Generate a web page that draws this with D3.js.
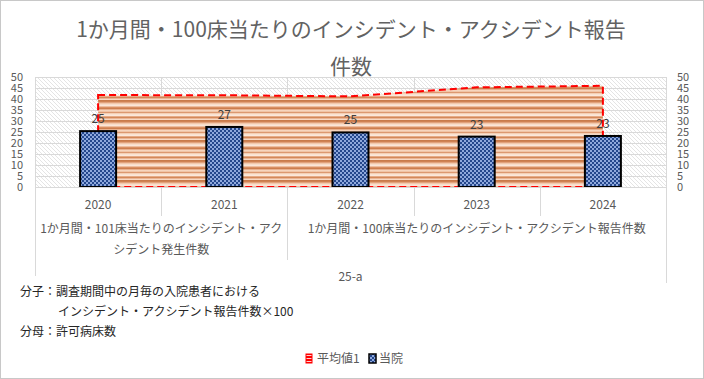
<!DOCTYPE html>
<html>
<head>
<meta charset="utf-8">
<script src="https://cdn.jsdelivr.net/npm/d3@7"></script>
<style>
  body { margin: 0; background: #fff; }
  svg { display: block; font-family: "Noto Sans CJK JP", "Noto Sans", sans-serif; }
</style>
</head>
<body>
<svg id="chart" width="704" height="379"></svg>
<script>
// data
const years = ['2020', '2021', '2022', '2023', '2024'];
const ownValues = [25.4, 27.3, 24.8, 22.9, 23.2];   // 当院
const avgValues = [41.8, 41.7, 41.2, 45.3, 46.0];   // 平均値1
const yTicks = [0, 5, 10, 15, 20, 25, 30, 35, 40, 45, 50];
const groups = [
  { label: ['1か月間・101床当たりのインシデント・アク', 'シデント発生件数'], from: '2020', to: '2021' },
  { label: ['1か月間・100床当たりのインシデント・アクシデント報告件数'], from: '2022', to: '2024' }
];
const titleLines = ['1か月間・100床当たりのインシデント・アクシデント報告', '件数'];
const outerLabel = '25-a';
const notes = [
  { text: '分子：調査期間中の月毎の入院患者における', indent: false },
  { text: 'インシデント・アクシデント報告件数×100', indent: true },
  { text: '分母：許可病床数', indent: false }
];
const legendItems = ['平均値1', '当院'];

const svg = d3.select('#chart');
const W = 704, H = 379;
const plot = { left: 35, right: 666, top: 77, bottom: 187 };

svg.append('rect')
  .attr('x', 0.5).attr('y', 0.5).attr('width', W - 1).attr('height', H - 1)
  .attr('fill', '#fff').attr('stroke', '#c8c8c8');

// patterns
const defs = svg.append('defs');

const hatch = defs.append('pattern')
  .attr('id', 'hatch').attr('patternUnits', 'userSpaceOnUse')
  .attr('width', 4).attr('height', 4);
hatch.append('rect').attr('width', 4).attr('height', 4).attr('fill', '#fff');
hatch.append('path').attr('d', 'M-1,-1 L5,5 M-1,3 L1,5 M3,-1 L5,1')
  .attr('stroke', '#e4e4e4').attr('stroke-width', 1);

const stripeColors = ['#c97a4a', '#cf8253', '#e2a27c', '#f2c9ad', '#f9ddca', '#fbe6d8',
  '#eebd9e', '#d98f63', '#cc7d4e', '#e8b08e', '#f6d4bd', '#f0c4a6', '#dc9870',
  '#f4cfb5', '#fae2d1', '#fbe8db', '#e6aa86', '#d38859', '#eab596', '#f7d9c4'];
const stripes = defs.append('pattern')
  .attr('id', 'stripes').attr('patternUnits', 'userSpaceOnUse')
  .attr('width', 8).attr('height', stripeColors.length);
stripes.selectAll('rect').data(stripeColors).join('rect')
  .attr('x', 0).attr('y', (d, i) => i).attr('width', 8).attr('height', 1)
  .attr('fill', d => d);

const checker = defs.append('pattern')
  .attr('id', 'checker').attr('patternUnits', 'userSpaceOnUse')
  .attr('width', 4).attr('height', 4);
checker.append('rect').attr('width', 4).attr('height', 4).attr('fill', '#24478c');
checker.append('rect').attr('width', 2).attr('height', 2).attr('fill', '#8ea8dc');
checker.append('rect').attr('x', 2).attr('y', 2).attr('width', 2).attr('height', 2).attr('fill', '#8ea8dc');

const redStripes = defs.append('pattern')
  .attr('id', 'redStripes').attr('patternUnits', 'userSpaceOnUse')
  .attr('width', 3).attr('height', 3);
redStripes.append('rect').attr('width', 3).attr('height', 3).attr('fill', '#ff0000');
redStripes.append('rect').attr('y', 1).attr('width', 3).attr('height', 1).attr('fill', '#ffd0d0');

// scales
const x = d3.scaleBand().domain(years).range([plot.left, plot.right]).padding(0);
const y = d3.scaleLinear().domain([0, 50]).range([plot.bottom, plot.top]);
const cx = d => x(d) + x.bandwidth() / 2;

// title
svg.append('g').selectAll('text').data(titleLines).join('text')
  .attr('x', 351).attr('y', (d, i) => 37 + i * 37)
  .attr('text-anchor', 'middle')
  .attr('font-size', 21).attr('fill', '#626262')
  .text(d => d);

// plot background
svg.append('rect')
  .attr('x', plot.left).attr('y', plot.top)
  .attr('width', plot.right - plot.left).attr('height', plot.bottom - plot.top)
  .attr('fill', 'url(#hatch)');

// gridlines
svg.append('g').selectAll('line').data(yTicks).join('line')
  .attr('x1', plot.left).attr('x2', plot.right)
  .attr('y1', d => Math.round(y(d)) + 0.5).attr('y2', d => Math.round(y(d)) + 0.5)
  .attr('stroke', '#d9d9d9');

// category boundaries (inside plot and in the axis)
const bounds = years.map(d => x(d)).concat([plot.right]);
svg.append('g').selectAll('line').data(bounds).join('line')
  .attr('x1', d => Math.round(d) + 0.5).attr('x2', d => Math.round(d) + 0.5)
  .attr('y1', plot.top)
  .attr('y2', (d, i) => {
    if (i === 0 || i === bounds.length - 1) return i === 0 ? 276 : 283;
    if (years[i] === groups[1].from) return 260;
    return 216;
  })
  .attr('stroke', '#d9d9d9');

// average area
const avgData = years.map((d, i) => ({ year: d, v: avgValues[i] }));
const area = d3.area()
  .x(d => cx(d.year))
  .y0(y(0))
  .y1(d => y(d.v));
svg.append('path')
  .datum(avgData)
  .attr('d', d => area(d) + 'Z')
  .attr('fill', 'url(#stripes)')
  .attr('stroke', '#ff0000')
  .attr('stroke-width', 2)
  .attr('stroke-dasharray', '7,4');

// bars
const barW = 36;
const ownData = years.map((d, i) => ({ year: d, v: ownValues[i] }));
svg.append('g').selectAll('rect').data(ownData).join('rect')
  .attr('x', d => cx(d.year) - barW / 2)
  .attr('y', d => y(d.v))
  .attr('width', barW)
  .attr('height', d => y(0) - y(d.v))
  .attr('fill', 'url(#checker)')
  .attr('stroke', '#000')
  .attr('stroke-width', 2);

// data labels
svg.append('g').selectAll('text').data(ownData).join('text')
  .attr('x', d => cx(d.year))
  .attr('y', d => y(d.v) - 8)
  .attr('text-anchor', 'middle')
  .attr('font-size', 12).attr('fill', '#404040')
  .text(d => d3.format('.0f')(d.v));

// value axes
const leftAxis = svg.append('g')
  .attr('transform', 'translate(23,0)')
  .call(d3.axisLeft(y).tickValues(yTicks).tickSize(0).tickPadding(0));
const rightAxis = svg.append('g')
  .attr('transform', 'translate(677,0)')
  .call(d3.axisRight(y).tickValues(yTicks).tickSize(0).tickPadding(0));
[leftAxis, rightAxis].forEach(a => {
  a.select('.domain').remove();
  a.selectAll('text').attr('font-size', 11).attr('fill', '#595959')
    .attr('font-family', '"Noto Sans CJK JP", sans-serif');
});

// category axis
svg.append('line')
  .attr('x1', plot.left).attr('x2', plot.right)
  .attr('y1', plot.bottom + 0.5).attr('y2', plot.bottom + 0.5)
  .attr('stroke', '#d9d9d9');

const xAxis = svg.append('g')
  .attr('transform', `translate(0,${plot.bottom})`)
  .call(d3.axisBottom(x).tickSize(0).tickPadding(0));
xAxis.select('.domain').remove();
xAxis.selectAll('text')
  .attr('dy', null).attr('y', 22)
  .attr('font-size', 12).attr('fill', '#595959')
  .attr('font-family', '"Noto Sans CJK JP", sans-serif');

groups.forEach(g => {
  const mid = (x(g.from) + x(g.to) + x.bandwidth()) / 2;
  svg.append('g').selectAll('text').data(g.label).join('text')
    .attr('x', mid).attr('y', (d, i) => 233 + i * 21)
    .attr('text-anchor', 'middle')
    .attr('font-size', 12).attr('fill', '#595959')
    .text(d => d);
});

svg.append('text')
  .attr('x', (plot.left + plot.right) / 2).attr('y', 281)
  .attr('text-anchor', 'middle')
  .attr('font-size', 12).attr('fill', '#595959')
  .text(outerLabel);

// footnotes
svg.append('g').selectAll('text').data(notes).join('text')
  .attr('x', d => d.indent ? 58 : 20)
  .attr('y', (d, i) => 296 + i * 20)
  .attr('font-size', 12).attr('fill', '#262626')
  .text(d => d.text);

// legend
const legend = svg.append('g').attr('transform', 'translate(0,363)');
legend.append('rect')
  .attr('x', 306).attr('y', -9).attr('width', 6).attr('height', 9)
  .attr('fill', 'url(#redStripes)').attr('stroke', '#ff0000');
legend.append('text').attr('x', 317).attr('y', 0)
  .attr('font-size', 12).attr('fill', '#595959').text(legendItems[0]);
legend.append('rect')
  .attr('x', 369).attr('y', -9).attr('width', 7).attr('height', 9)
  .attr('fill', 'url(#checker)').attr('stroke', '#000').attr('stroke-width', 1.5);
legend.append('text').attr('x', 379).attr('y', 0)
  .attr('font-size', 12).attr('fill', '#595959').text(legendItems[1]);
</script>
</body>
</html>
